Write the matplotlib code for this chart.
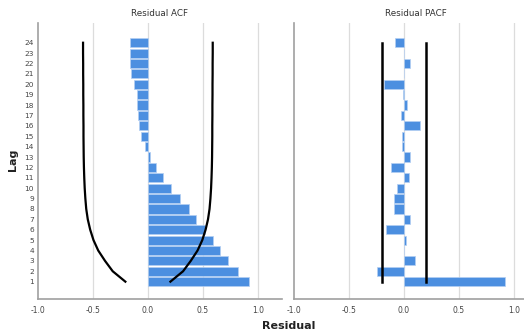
import numpy as np
import matplotlib
matplotlib.use("Agg")
import matplotlib.pyplot as plt

lags = np.arange(1, 25)

acf = [0.921, 0.818, 0.730, 0.655, 0.591, 0.524, 0.442, 0.373, 0.291, 0.209,
       0.142, 0.076, 0.018, -0.027, -0.067, -0.082, -0.091, -0.097, -0.100,
       -0.127, -0.155, -0.167, -0.161, -0.161]

# upper confidence limit of the ACF (lower one is the mirror)
acf_limit = [0.205, 0.320, 0.390, 0.452, 0.495, 0.525, 0.547, 0.561, 0.569,
             0.575, 0.579, 0.582, 0.584, 0.585, 0.586, 0.586, 0.587, 0.587,
             0.588, 0.588, 0.589, 0.589, 0.590, 0.590]

pacf = [0.924, -0.242, 0.097, 0.003, 0.021, -0.161, 0.055, -0.094, -0.088,
        -0.058, 0.048, -0.118, 0.058, -0.018, -0.015, 0.148, -0.030, 0.030,
        -0.012, -0.179, 0.005, 0.058, 0.002, -0.079]
pacf_limit = 0.203

xticks = [-1.0, -0.5, 0.0, 0.5, 1.0]

bar_col = "#4c8fe0"
edge_col = "#b4cff2"
spine_col = "#a0a0a0"
grid_col = "#dcdcdc"
tick_col = "#444444"

fig = plt.figure(figsize=(5.24, 3.32), dpi=100)
ax1 = fig.add_axes([0.0725, 0.0994, 0.4656, 0.8313])
ax2 = fig.add_axes([0.561, 0.0994, 0.4656, 0.8313])

for ax, vals, title in [(ax1, acf, "Residual ACF"), (ax2, pacf, "Residual PACF")]:
    ax.barh(lags, vals, height=0.88, color=bar_col, edgecolor=edge_col,
            linewidth=0.5, zorder=2)
    ax.set_xlim(-1.0, 1.22)
    ax.set_ylim(-0.67, 25.9)
    ax.set_xticks(xticks)
    ax.set_xticklabels(["%.1f" % v for v in xticks])
    for g in xticks[1:]:
        ax.axvline(g, color=grid_col, linewidth=0.9, zorder=0)
    for s in ["top", "right"]:
        ax.spines[s].set_visible(False)
    for s in ["left", "bottom"]:
        ax.spines[s].set_color(spine_col)
        ax.spines[s].set_linewidth(1.2)
    ax.tick_params(axis="x", length=0, pad=5, labelsize=5.5, labelcolor=tick_col)
    ax.set_title(title, fontsize=6.3, color="#333333", pad=5)

ax1.set_yticks(lags)
ax1.set_yticklabels([str(l) for l in lags])
ax1.tick_params(axis="y", length=0, pad=3, labelsize=5.3, labelcolor=tick_col)
ax2.set_yticks([])

lim = np.array(acf_limit)
ax1.plot(lim, lags, color="black", linewidth=1.6, zorder=3)
ax1.plot(-lim, lags, color="black", linewidth=1.6, zorder=3)

ax2.plot([pacf_limit, pacf_limit], [lags[0], lags[-1]], color="black",
         linewidth=1.8, zorder=3)
ax2.plot([-pacf_limit, -pacf_limit], [lags[0], lags[-1]], color="black",
         linewidth=1.8, zorder=3)

fig.text(0.025, 0.52, "Lag", rotation=90, fontsize=8, fontweight="bold",
         ha="center", va="center", color="#222222")
fig.text(0.55, 0.018, "Residual", fontsize=8, fontweight="bold",
         ha="center", va="center", color="#222222")

fig.savefig("out.png", dpi=100)
